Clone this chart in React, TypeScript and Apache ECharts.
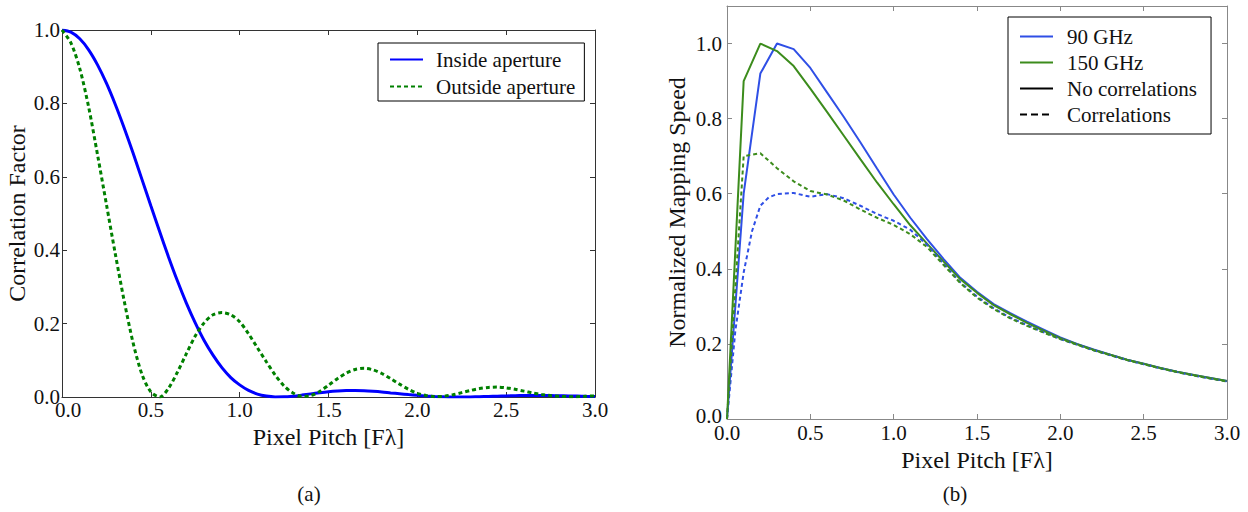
import React, { useEffect, useRef } from 'react';
import * as echarts from 'echarts';

// ---------- Panel (a): correlation factor vs pixel pitch ----------
const pitchA = [
  0, 0.05, 0.1, 0.15, 0.2, 0.25, 0.3, 0.35, 0.4, 0.45, 0.5, 0.55, 0.6, 0.65, 0.7, 0.75, 0.8, 0.85, 0.9, 0.95,
  1.0, 1.05, 1.1, 1.15, 1.2, 1.25, 1.3, 1.35, 1.4, 1.45, 1.5, 1.55, 1.6, 1.65, 1.7, 1.75, 1.8, 1.85, 1.9, 1.95,
  2.0, 2.05, 2.1, 2.15, 2.2, 2.25, 2.3, 2.35, 2.4, 2.45, 2.5, 2.55, 2.6, 2.65, 2.7, 2.75, 2.8, 2.85, 2.9, 2.95, 3.0,
];
const insideAperture = [
  1.0, 0.994, 0.976, 0.946, 0.905, 0.855, 0.797, 0.733, 0.665, 0.593, 0.521, 0.45, 0.381, 0.316, 0.256, 0.202, 0.154, 0.114, 0.08, 0.053,
  0.033, 0.018, 0.008, 0.0025, 0.0002, 0.0004, 0.0023, 0.0052, 0.0085, 0.0116, 0.0143, 0.0162, 0.0174, 0.0175, 0.0168, 0.0154, 0.0136, 0.0112, 0.009, 0.0066,
  0.0046, 0.0028, 0.0015, 0.0006, 0.0001, 0.0, 0.0003, 0.0008, 0.0015, 0.0022, 0.0029, 0.0035, 0.004, 0.0042, 0.0041, 0.0039, 0.0035, 0.003, 0.0024, 0.0018, 0.0013,
];
const outsideAperture = [
  1.0, 0.965, 0.895, 0.79, 0.66, 0.525, 0.39, 0.262, 0.148, 0.062, 0.014, 0.0, 0.024, 0.068, 0.118, 0.166, 0.202, 0.224, 0.23, 0.224,
  0.205, 0.172, 0.134, 0.096, 0.06, 0.03, 0.011, 0.002, 0.004, 0.015, 0.032, 0.05, 0.065, 0.075, 0.078, 0.074, 0.064, 0.05, 0.035, 0.021,
  0.01, 0.004, 0.001, 0.002, 0.006, 0.012, 0.018, 0.023, 0.026, 0.027, 0.025, 0.021, 0.016, 0.011, 0.007, 0.004, 0.002, 0.001, 0.001, 0.002, 0.003,
];

// ---------- Panel (b): normalized mapping speed vs pixel pitch ----------
const pitchB = [
  0, 0.1, 0.2, 0.3, 0.4, 0.5, 0.6, 0.7, 0.8, 0.9, 1.0, 1.1, 1.2, 1.3, 1.4, 1.5,
  1.6, 1.7, 1.8, 1.9, 2.0, 2.1, 2.2, 2.3, 2.4, 2.5, 2.6, 2.7, 2.8, 2.9, 3.0,
];
const speed90NoCorr = [
  0, 0.6, 0.92, 1.0, 0.985, 0.935, 0.87, 0.805, 0.737, 0.667, 0.598, 0.536, 0.479, 0.426, 0.376, 0.339,
  0.306, 0.282, 0.259, 0.238, 0.217, 0.2, 0.185, 0.171, 0.158, 0.147, 0.136, 0.126, 0.117, 0.109, 0.101,
];
const speed150NoCorr = [
  0, 0.9, 1.0, 0.98, 0.94, 0.88, 0.818, 0.755, 0.692, 0.63, 0.572, 0.516, 0.467, 0.419, 0.372, 0.336,
  0.303, 0.279, 0.256, 0.235, 0.215, 0.199, 0.184, 0.171, 0.158, 0.147, 0.136, 0.126, 0.117, 0.109, 0.101,
];
const pitchB90Corr = [
  0, 0.05, 0.1, 0.15, 0.2, 0.25, 0.3, 0.4, 0.5, 0.6, 0.7, 0.8, 0.9, 1.0, 1.1, 1.2, 1.3, 1.4, 1.5,
  1.6, 1.7, 1.8, 1.9, 2.0, 2.1, 2.2, 2.3, 2.4, 2.5, 2.6, 2.7, 2.8, 2.9, 3.0,
];
const speed90Corr = [
  0, 0.235, 0.39, 0.5, 0.568, 0.59, 0.599, 0.602, 0.592, 0.599, 0.588, 0.568, 0.546, 0.528, 0.504, 0.464, 0.413, 0.364, 0.326,
  0.295, 0.27, 0.25, 0.231, 0.213, 0.198, 0.183, 0.17, 0.157, 0.146, 0.135, 0.125, 0.116, 0.108, 0.1,
];
const speed150Corr = [
  0, 0.7, 0.708, 0.668, 0.633, 0.607, 0.598, 0.582, 0.558, 0.536, 0.517, 0.492, 0.458, 0.41, 0.362, 0.323,
  0.293, 0.268, 0.248, 0.23, 0.213, 0.198, 0.183, 0.17, 0.157, 0.146, 0.135, 0.125, 0.116, 0.108, 0.1,
];

const labelsA = ['Inside aperture', 'Outside aperture'];
const labelsB = ['90 GHz', '150 GHz', 'No correlations', 'Correlations'];
const captions = ['(a)', '(b)'];
const xTitle = 'Pixel Pitch [F\u03bb]';
const yTitleA = 'Correlation Factor';
const yTitleB = 'Normalized Mapping Speed';

const FONT = "'Liberation Serif', 'Times New Roman', serif";
const BLUE_A = '#0000ff';
const GREEN_A = '#008000';
const BLUE_B = '#2f4fe6';
const GREEN_B = '#3c8c1c';

const pairs = (xs: number[], ys: number[]) => xs.map((x, i) => [x, ys[i]]);

function makeAxis(opts: {
  grid: number;
  position: string;
  min: number;
  max: number;
  interval: number;
  color: string;
  labels: boolean;
  name?: string;
  nameGap?: number;
  labelMargin?: number;
  hideAbove?: number;
  zeroPadding?: number[];
}) {
  const ax: any = {
    type: 'value',
    gridIndex: opts.grid,
    position: opts.position,
    min: opts.min,
    max: opts.max,
    interval: opts.interval,
    splitLine: { show: false },
    axisLine: { show: true, onZero: false, lineStyle: { color: opts.color, width: 1 } },
    axisTick: { show: true, inside: true, length: 5, lineStyle: { color: opts.color, width: 1 } },
    axisLabel: opts.labels
      ? {
          show: true,
          fontFamily: FONT,
          fontSize: 21,
          color: '#111',
          margin: opts.labelMargin ?? 3,
          formatter: (v: number) => {
            if (opts.hideAbove !== undefined && v > opts.hideAbove) return '';
            const s = v.toFixed(1);
            return v === 0 && opts.zeroPadding ? `{z|${s}}` : s;
          },
          rich: {
            z: {
              fontFamily: FONT,
              fontSize: 21,
              color: '#111',
              padding: opts.zeroPadding ?? [0, 0, 0, 0],
            },
          },
        }
      : { show: false },
  };
  if (opts.name) {
    ax.name = opts.name;
    ax.nameLocation = 'middle';
    ax.nameGap = opts.nameGap;
    ax.nameTextStyle = { fontFamily: FONT, fontSize: 24, color: '#111' };
  }
  return ax;
}

const hiddenSymbol = { color: 'rgba(0,0,0,0)', borderWidth: 0, opacity: 0 };

export default function App() {
  const ref = useRef<HTMLDivElement>(null);

  useEffect(() => {
    if (!ref.current) return;
    const chart = echarts.init(ref.current, undefined, { renderer: 'svg' });

    const option: any = {
      animation: false,
      backgroundColor: '#ffffff',
      textStyle: { fontFamily: FONT },
      grid: [
        { left: 62, top: 30, width: 533, height: 367 },
        { left: 727, top: 6, width: 500, height: 413 },
      ],
      xAxis: [
        makeAxis({ grid: 0, position: 'bottom', min: 0, max: 3, interval: 0.5, color: '#333', labels: true, name: xTitle, nameGap: 13, labelMargin: 2, zeroPadding: [0, 0, 0, 12] }),
        makeAxis({ grid: 0, position: 'top', min: 0, max: 3, interval: 0.5, color: '#333', labels: false }),
        makeAxis({ grid: 1, position: 'bottom', min: 0, max: 3, interval: 0.5, color: '#888', labels: true, name: xTitle, nameGap: 16, labelMargin: 3 }),
        makeAxis({ grid: 1, position: 'top', min: 0, max: 3, interval: 0.5, color: '#888', labels: false }),
      ],
      yAxis: [
        makeAxis({ grid: 0, position: 'left', min: 0, max: 1, interval: 0.2, color: '#333', labels: true, name: yTitleA, nameGap: 33, labelMargin: 2 }),
        makeAxis({ grid: 0, position: 'right', min: 0, max: 1, interval: 0.2, color: '#333', labels: false }),
        makeAxis({ grid: 1, position: 'left', min: 0, max: 1.1, interval: 0.2, color: '#888', labels: true, name: yTitleB, nameGap: 38, labelMargin: 5, hideAbove: 1.05, zeroPadding: [0, 0, 6, 0] }),
        makeAxis({ grid: 1, position: 'right', min: 0, max: 1.1, interval: 0.2, color: '#888', labels: false }),
      ],
      legend: [
        {
          data: labelsA,
          orient: 'vertical',
          left: 378,
          top: 43,
          itemWidth: 33,
          itemHeight: 14,
          itemGap: 6,
          padding: [6, 9, 4, 11],
          borderColor: '#000',
          borderWidth: 1,
          borderRadius: 0,
          backgroundColor: '#fff',
          itemStyle: hiddenSymbol,
          textStyle: { fontFamily: FONT, fontSize: 21, color: '#111', padding: [0, 0, 0, 8] },
        },
        {
          data: labelsB,
          orient: 'vertical',
          left: 1008,
          top: 17,
          itemWidth: 33,
          itemHeight: 14,
          itemGap: 5,
          padding: [9, 14, 9, 11],
          borderColor: '#000',
          borderWidth: 1,
          borderRadius: 0,
          backgroundColor: '#fff',
          itemStyle: hiddenSymbol,
          textStyle: { fontFamily: FONT, fontSize: 21, color: '#111', padding: [0, 0, 0, 9] },
        },
      ],
      series: [
        {
          name: labelsA[0],
          type: 'line',
          xAxisIndex: 0,
          yAxisIndex: 0,
          data: pairs(pitchA, insideAperture),
          symbol: 'none',
          smooth: 0.3,
          color: BLUE_A,
          lineStyle: { color: BLUE_A, width: 3 },
          z: 3,
        },
        {
          name: labelsA[1],
          type: 'line',
          xAxisIndex: 0,
          yAxisIndex: 0,
          data: pairs(pitchA, outsideAperture),
          symbol: 'none',
          smooth: 0.3,
          color: GREEN_A,
          lineStyle: { color: GREEN_A, width: 3, type: [4, 3] },
          z: 4,
        },
        {
          name: labelsB[0],
          type: 'line',
          xAxisIndex: 2,
          yAxisIndex: 2,
          data: pairs(pitchB, speed90NoCorr),
          symbol: 'none',
          color: BLUE_B,
          lineStyle: { color: BLUE_B, width: 2 },
        },
        {
          name: labelsB[1],
          type: 'line',
          xAxisIndex: 2,
          yAxisIndex: 2,
          data: pairs(pitchB, speed150NoCorr),
          symbol: 'none',
          color: GREEN_B,
          lineStyle: { color: GREEN_B, width: 2 },
        },
        {
          name: '90 GHz (correlations)',
          type: 'line',
          xAxisIndex: 2,
          yAxisIndex: 2,
          data: pairs(pitchB90Corr, speed90Corr),
          symbol: 'none',
          color: BLUE_B,
          lineStyle: { color: BLUE_B, width: 2, type: [4, 3] },
        },
        {
          name: '150 GHz (correlations)',
          type: 'line',
          xAxisIndex: 2,
          yAxisIndex: 2,
          data: pairs(pitchB, speed150Corr),
          symbol: 'none',
          color: GREEN_B,
          lineStyle: { color: GREEN_B, width: 2, type: [4, 3] },
        },
        {
          name: labelsB[2],
          type: 'line',
          xAxisIndex: 2,
          yAxisIndex: 2,
          data: [],
          symbol: 'none',
          color: '#000',
          lineStyle: { color: '#000', width: 3 },
        },
        {
          name: labelsB[3],
          type: 'line',
          xAxisIndex: 2,
          yAxisIndex: 2,
          data: [],
          symbol: 'none',
          color: '#000',
          lineStyle: { color: '#000', width: 3, type: [7, 4] },
        },
      ],
      graphic: [
        {
          type: 'text',
          x: 309,
          y: 494,
          style: { text: captions[0], font: `21px ${FONT}`, fill: '#111', textAlign: 'center', textVerticalAlign: 'middle' },
        },
        {
          type: 'text',
          x: 955,
          y: 494,
          style: { text: captions[1], font: `21px ${FONT}`, fill: '#111', textAlign: 'center', textVerticalAlign: 'middle' },
        },
      ],
    };

    chart.setOption(option);
    return () => chart.dispose();
  }, []);

  return (
    <div
      ref={ref}
      style={{ position: 'absolute', left: 0, top: 0, width: 1248, height: 512, background: '#fff' }}
    />
  );
}
